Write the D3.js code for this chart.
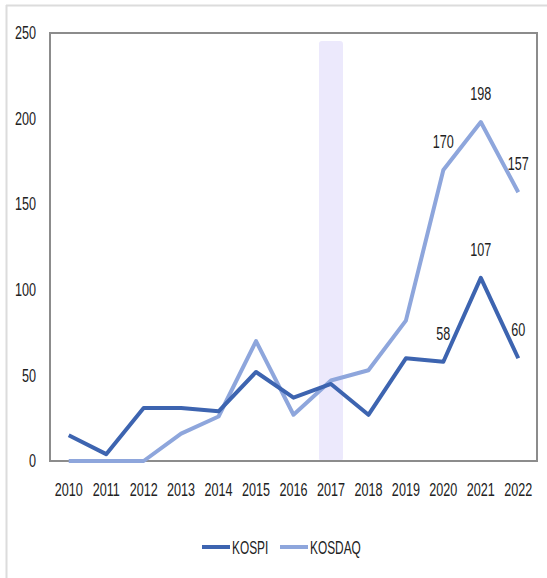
<!DOCTYPE html>
<html>
<head>
<meta charset="utf-8">
<script src="https://cdn.jsdelivr.net/npm/d3@7"></script>
<style>
  body { margin: 0; background: #fff; }
  text { font-family: 'Liberation Sans', Arial, sans-serif; fill: #222; }
</style>
</head>
<body>
<div id="chart"></div>
<script>
const years = ['2010','2011','2012','2013','2014','2015','2016','2017','2018','2019','2020','2021','2022'];
const kospi = [15, 4, 31, 31, 29, 52, 37, 45, 27, 60, 58, 107, 60];
const kosdaq = [0, 0, 0, 16, 26, 70, 27, 47, 53, 82, 170, 198, 157];
const yTicks = [0, 50, 100, 150, 200, 250];
const highlightYear = '2017';
// which points get a value label
const labelledYears = ['2020', '2021', '2022'];

const figure_width = 547, figure_height = 578;
const plot_margin = { top: 33, right: 10, bottom: 117, left: 50 },
    plot_width = figure_width - plot_margin.left - plot_margin.right,
    plot_height = figure_height - plot_margin.top - plot_margin.bottom;

// the source font is a narrow one, squeeze the glyphs horizontally
function squeeze(sel, k) {
  sel.each(function() {
    const w = this.getComputedTextLength();
    d3.select(this).attr('textLength', w * k).attr('lengthAdjust', 'spacingAndGlyphs');
  });
}

const svg = d3.select('#chart')
  .append('svg')
    .attr('width', figure_width)
    .attr('height', figure_height);

// outer frame (only top and left edges show)
svg.append('line').attr('x1', 6).attr('x2', 547).attr('y1', 5.5).attr('y2', 5.5)
  .attr('stroke', '#dcdcdc').attr('stroke-width', 2);
svg.append('line').attr('x1', 6.5).attr('x2', 6.5).attr('y1', 5).attr('y2', 578)
  .attr('stroke', '#dcdcdc').attr('stroke-width', 2);

const g = svg.append('g')
  .attr('transform', 'translate(' + plot_margin.left + ',' + plot_margin.top + ')');

const x = d3.scaleBand()
  .domain(years)
  .range([0, plot_width])
  .padding(0);

const y = d3.scaleLinear()
  .domain([0, 250])
  .range([plot_height, 0]);

const cx = function(d) { return x(d) + x.bandwidth() / 2; };

// highlight band
g.append('rect')
  .attr('x', cx(highlightYear) - 12)
  .attr('y', 8)
  .attr('width', 24)
  .attr('height', plot_height - 8)
  .attr('rx', 3)
  .attr('fill', '#ece9fc');

// plot box
g.append('rect')
  .attr('x', 0).attr('y', 0)
  .attr('width', plot_width).attr('height', plot_height)
  .attr('fill', 'none')
  .attr('stroke', '#8c8c8c')
  .attr('stroke-width', 2);

// y axis
const yAxis = g.append('g')
  .call(d3.axisLeft(y).tickValues(yTicks).tickSize(0).tickPadding(14));
yAxis.select('.domain').remove();
yAxis.selectAll('text').style('font-size', '18px').style('font-family', null).attr('fill', '#222')
  .call(squeeze, 0.7);

// x axis
const xAxis = g.append('g')
  .attr('transform', 'translate(0,' + plot_height + ')')
  .call(d3.axisBottom(x).tickSize(0).tickPadding(22));
xAxis.select('.domain').remove();
xAxis.selectAll('text').style('font-size', '18px').attr('fill', '#222')
  .call(squeeze, 0.7);
svg.selectAll('.tick text').attr('font-family', null);

const line = d3.line()
  .x(function(d) { return cx(d.year); })
  .y(function(d) { return y(d.value); });

const series = [
  { name: 'KOSPI', values: kospi, color: '#3d64b0' },
  { name: 'KOSDAQ', values: kosdaq, color: '#8ea6dc' }
];

series.slice().reverse().forEach(function(s) {
  const pts = years.map(function(yr, i) { return { year: yr, value: s.values[i] }; });
  g.append('path')
    .datum(pts)
    .attr('fill', 'none')
    .attr('stroke', s.color)
    .attr('stroke-width', 4)
    .attr('stroke-linejoin', 'round')
    .attr('d', line);
});

// value labels
series.forEach(function(s) {
  const pts = years.map(function(yr, i) { return { year: yr, value: s.values[i] }; })
    .filter(function(d) { return labelledYears.indexOf(d.year) >= 0; });
  g.selectAll(null)
    .data(pts)
    .enter()
    .append('text')
      .attr('x', function(d) { return cx(d.year); })
      .attr('y', function(d) { return y(d.value) - 22; })
      .attr('text-anchor', 'middle')
      .style('font-size', '18px')
      .text(function(d) { return d.value; })
      .call(squeeze, 0.7);
});

// legend
const legend = svg.append('g').attr('transform', 'translate(0,547)');
const legendItems = [
  { name: 'KOSPI', color: '#3d64b0', x: 202 },
  { name: 'KOSDAQ', color: '#8ea6dc', x: 280 }
];
legendItems.forEach(function(d) {
  legend.append('line')
    .attr('x1', d.x).attr('x2', d.x + 28)
    .attr('y1', 0).attr('y2', 0)
    .attr('stroke', d.color).attr('stroke-width', 4);
  legend.append('text')
    .attr('x', d.x + 30).attr('y', 6.5)
    .style('font-size', '18px')
    .text(d.name)
    .call(squeeze, 0.66);
});
</script>
</body>
</html>
